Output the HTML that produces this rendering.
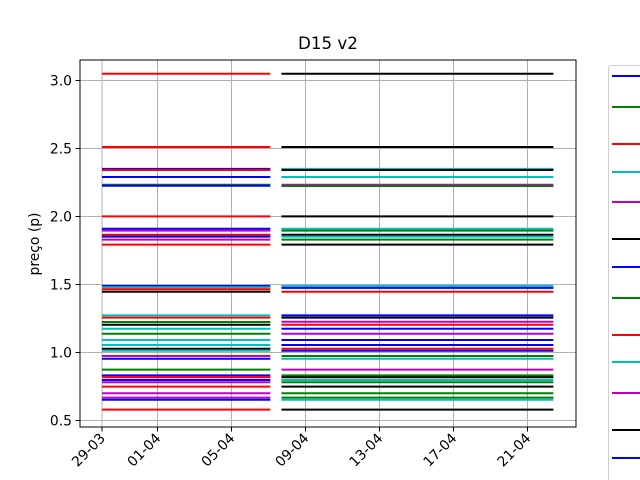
<!DOCTYPE html>
<html><head><meta charset="utf-8"><style>
body{margin:0;background:#fff;width:640px;height:480px;overflow:hidden}
svg{display:block;font-family:"DejaVu Sans","Liberation Sans",sans-serif}
</style></head><body>
<svg id="chart" width="640" height="480"></svg>
<script>
const xTickLabels=["29-03","01-04","05-04","09-04","13-04","17-04","21-04"];
const xTickDays=[0,3,7,11,15,19,23];
const yTicks=[0.5,1.0,1.5,2.0,2.5,3.0];
const periodStart=[0,9.7];
const periodEnd=[9.1,24.4];
const leftColors=["r","r","b","r","b","g","b","r","b","m","r","b","m","r","b","c","r","k","c","r","g","k","c","g","c","c","k","c","m","b","g","b","r","b","m","r","m","m","b","r"];
const leftValues=[3.05,2.511,2.35,2.342,2.29,2.233,2.226,2.001,1.91,1.896,1.866,1.852,1.83,1.793,1.489,1.48,1.465,1.447,1.273,1.256,1.224,1.204,1.175,1.138,1.092,1.055,1.028,1.013,0.974,0.954,0.874,0.832,0.818,0.798,0.781,0.749,0.700,0.668,0.653,0.58];
const rightColors=["k","k","c","k","c","m","g","k","c","g","k","c","g","k","c","b","r","b","k","m","r","b","m","b","b","r","b","g","c","m","g","k","c","g","k","g","g","c","k"];
const rightValues=[3.05,2.511,2.35,2.342,2.29,2.233,2.224,2.001,1.91,1.896,1.866,1.852,1.83,1.793,1.49,1.475,1.447,1.273,1.256,1.226,1.204,1.175,1.138,1.092,1.055,1.028,1.013,0.974,0.954,0.874,0.832,0.818,0.798,0.781,0.749,0.700,0.668,0.653,0.58];
const legendColors=["b","g","r","c","m","k","b","g","r","c","m","k","b"];
const legendY=[76,107,144,172,202,239,267,298,335,362,393,430,458];
const C={b:"#0000ff",g:"#008000",r:"#ff0000",c:"#00bfbf",m:"#bf00bf",k:"#000000"};
const svg=document.getElementById('chart');
const NS="http://www.w3.org/2000/svg";
function mk(t,a,p){const e=document.createElementNS(NS,t);for(const k in a)e.setAttribute(k,a[k]);(p||svg).appendChild(e);return e;}
const X0=80,X1=576,Y0=60,Y1=427;
const xs=d=>102+d*18.5;
const ys=v=>80.5+(3-v)*136;
xTickDays.forEach((d,i)=>{
  const g=mk('line',{x1:xs(d),x2:xs(d),y1:Y0,y2:Y1,stroke:"#b0b0b0","stroke-width":1});
  
  
  const t=mk('line',{x1:xs(d),x2:xs(d),y1:Y1,y2:Y1+4.5,stroke:"#000","stroke-width":1});
  
  
  const tx=mk('text',{x:xs(d)+4,y:Y1+12,"font-size":"13.9","text-anchor":"end",transform:`rotate(-45 ${xs(d)+4} ${Y1+12})`});
  tx.textContent=xTickLabels[i];
  
  
});
yTicks.forEach(v=>{
  const g=mk('line',{x1:X0,x2:X1,y1:ys(v),y2:ys(v),stroke:"#b0b0b0","stroke-width":1});
  
  
  const t=mk('line',{x1:X0-4.5,x2:X0,y1:ys(v),y2:ys(v),stroke:"#000","stroke-width":1});
  
  
  const tx=mk('text',{x:X0-8,y:ys(v)+5,"font-size":"13.9","text-anchor":"end"});
  tx.textContent=v.toFixed(1);
  
  
});
function drawSet(vals,cols,p){
  vals.forEach((v,i)=>{
    const l=mk('line',{x1:xs(periodStart[p]),x2:xs(periodEnd[p]),y1:ys(v),y2:ys(v),stroke:C[cols[i]],"stroke-width":2});
    
    
  });
}
drawSet(leftValues,leftColors,0);
drawSet(rightValues,rightColors,1);
const fr=mk('rect',{x:X0,y:Y0,width:X1-X0,height:Y1-Y0,fill:"none",stroke:"#000","stroke-width":1});


const ti=mk('text',{x:328,y:49,"font-size":"16.7","text-anchor":"middle"});
ti.textContent="D15 v2";


const yl=mk('text',{x:39,y:244,"font-size":"13.9","text-anchor":"middle",transform:"rotate(-90 39 244)"});
yl.textContent="preço (p)";


const lg=mk('rect',{x:608.5,y:65.5,width:60,height:430,rx:3,fill:"#fff",stroke:"#d0d0d0","stroke-width":1});


legendColors.forEach((c,i)=>{
  const l=mk('line',{x1:612,x2:641,y1:legendY[i],y2:legendY[i],stroke:C[c],"stroke-width":2});
  
  
});
</script>
</body></html>
